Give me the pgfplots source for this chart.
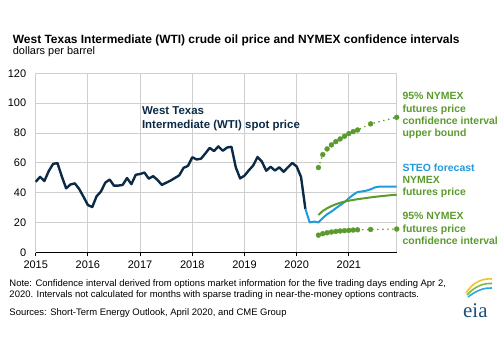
\documentclass[border=0pt]{standalone}
\usepackage{pgfplots}
\pgfplotsset{compat=1.18}
\usepackage{fontspec}
\setmainfont{Liberation Sans}
\newfontfamily\logofont{Liberation Serif}

\definecolor{wtinavy}{HTML}{0C2A46}
\definecolor{steoblue}{HTML}{1F9BDD}
\definecolor{nymexgreen}{HTML}{5B9B2E}
\definecolor{gridgray}{HTML}{CFCFCF}
\definecolor{logoblue}{HTML}{1B4F7A}
\definecolor{logoyellow}{HTML}{F2C230}
\definecolor{logogreen}{HTML}{7DB946}
\definecolor{logocyan}{HTML}{2AA7DF}

% monthly index: 0 = Jan 2015, 83 = Dec 2021
\pgfplotstableread{
m price
0 47.22
1 50.58
2 47.82
3 54.45
4 59.27
5 59.82
6 50.90
7 42.87
8 45.48
9 46.22
10 42.44
11 37.19
12 31.68
13 30.32
14 37.55
15 40.75
16 46.71
17 48.76
18 44.65
19 44.72
20 45.18
21 49.78
22 45.66
23 51.97
24 52.50
25 53.47
26 49.33
27 51.06
28 48.48
29 45.18
30 46.63
31 48.04
32 49.82
33 51.58
34 56.64
35 57.88
36 63.70
37 62.23
38 62.73
39 66.25
40 69.98
41 67.87
42 70.98
43 68.06
44 70.23
45 70.75
46 56.96
47 49.52
48 51.38
49 54.95
50 58.15
51 63.86
52 60.83
53 54.66
54 57.35
55 54.81
56 56.95
57 53.96
58 57.03
59 59.88
60 57.52
61 50.54
62 29.21
}\wtispot

\pgfplotstableread{
m price
62 29.21
63 20.0
64 20.6
65 20.0
66 23.0
67 25.5
68 27.3
69 29.5
70 31.6
71 33.6
72 36.2
73 38.6
74 40.4
75 40.8
76 41.3
77 42.2
78 43.5
79 44.0
80 44.0
81 44.0
82 44.0
83 44.0
}\steo

\pgfplotstableread{
m price
65 25.0
66 27.7
67 29.5
68 31.0
69 32.2
70 33.2
71 34.0
72 34.6
73 35.1
74 35.6
75 36.0
76 36.4
77 36.8
78 37.2
79 37.5
80 37.8
81 38.1
82 38.4
83 38.6
}\futures

\pgfplotstableread{
m price
65 56.8
66 65.5
67 69.3
68 72.0
69 74.2
70 76.0
71 77.8
72 79.6
73 80.9
74 82.0
77 86.1
83 90.5
}\upperci

\pgfplotstableread{
m price
65 11.5
66 12.5
67 13.1
68 13.6
69 14.0
70 14.3
71 14.5
72 14.7
73 14.9
74 15.1
77 15.3
83 15.6
}\lowerci

\begin{document}
\begin{tikzpicture}
\path[use as bounding box] (0bp,0bp) rectangle (500bp,350bp);

% title block
\node[anchor=base west, inner sep=0, font=\fontsize{12}{14}\selectfont\bfseries]
  at (12.7bp,306.5bp) {West Texas Intermediate (WTI) crude oil price and NYMEX confidence intervals};
\node[anchor=base west, inner sep=0, font=\fontsize{11}{13}\selectfont]
  at (12.7bp,295bp) {dollars per barrel};

\begin{axis}[
  at={(35.7bp,97.7bp)}, anchor=south west,
  width=361bp, height=179bp, scale only axis,
  xmin=0, xmax=83, ymin=0, ymax=120,
  xtick={0,12,24,36,48,60,72},
  xticklabels={2015,2016,2017,2018,2019,2020,2021},
  ytick={0,20,...,120},
  grid=major,
  major grid style={gridgray, line width=0.9bp},
  axis line style={gridgray, line width=0.9bp},
  xtick pos=left,
  tick align=outside,
  major tick length=4bp,
  x tick style={black, line width=0.8bp},
  y tick style={draw=none},
  tick label style={font=\fontsize{11}{13}\selectfont},
  /pgf/number format/assume math mode=true,
  yticklabel style={xshift=-2bp},
  xticklabel style={yshift=-1bp},
  clip=false,
]
\draw[black, line width=1bp] (axis cs:0,0) -- (axis cs:83,0);

\addplot[steoblue, line width=2bp, line join=round] table[x=m, y=price] {\steo};
\addplot[nymexgreen, line width=2bp, line join=round] table[x=m, y=price] {\futures};
\addplot[wtinavy, line width=2.4bp, line join=round] table[x=m, y=price] {\wtispot};

\addplot[nymexgreen, line width=1.8bp, line cap=round, dash pattern=on 0pt off 5bp,
  mark=*, mark size=2.5bp, mark options={solid, fill=nymexgreen, draw=nymexgreen, line width=0.3bp}]
  table[x=m, y=price] {\upperci};
\addplot[nymexgreen, line width=1.8bp, line cap=round, dash pattern=on 0pt off 5bp,
  mark=*, mark size=2.5bp, mark options={solid, fill=nymexgreen, draw=nymexgreen, line width=0.3bp}]
  table[x=m, y=price] {\lowerci};

% series labels
\node[anchor=west, align=left, inner sep=0, text=wtinavy, font=\fontsize{11.5}{13.4}\selectfont\bfseries]
  at (axis cs:24.4,89.5) {West Texas\\Intermediate (WTI) spot price};
\node[anchor=west, align=left, inner sep=0, text=nymexgreen, font=\fontsize{10.5}{12.3}\selectfont\bfseries]
  at (axis cs:84.3,91.6) {95\% NYMEX\\futures price\\confidence interval\\upper bound};
\node[anchor=west, align=left, inner sep=0, font=\fontsize{10.5}{12.3}\selectfont\bfseries]
  at (axis cs:84.3,48.0) {\textcolor{steoblue}{STEO forecast}\\\textcolor{nymexgreen}{NYMEX}\\\textcolor{nymexgreen}{futures price}};
\node[anchor=west, align=left, inner sep=0, text=nymexgreen, font=\fontsize{10.5}{12.3}\selectfont\bfseries]
  at (axis cs:84.3,15.9) {95\% NYMEX\\futures price\\confidence interval};
\end{axis}

% notes and sources
\node[anchor=base west, inner sep=0, font=\fontsize{9.5}{11.5}\selectfont]
  at (9.3bp,63.5bp) {Note: Confidence interval derived from options market information for the five trading days ending Apr 2,};
\node[anchor=base west, inner sep=0, font=\fontsize{9.5}{11.5}\selectfont]
  at (9.3bp,52bp) {2020. Intervals not calculated for months with sparse trading in near-the-money options contracts.};
\node[anchor=base west, inner sep=0, font=\fontsize{9.5}{11.5}\selectfont]
  at (9.3bp,35bp) {Sources: Short-Term Energy Outlook, April 2020, and CME Group};

% eia logo
\node[anchor=base west, inner sep=0, text=logoblue, font=\logofont\fontsize{21}{21}\selectfont]
  at (463bp,33bp) {eia};
\draw[logoyellow, line width=1.6bp] (466bp,57bp) .. controls (473bp,68bp) and (483bp,72bp) .. (492bp,71bp);
\draw[logogreen, line width=1.6bp] (467bp,55bp) .. controls (475bp,64bp) and (484bp,67bp) .. (492bp,66.5bp);
\draw[logocyan, line width=1.6bp] (468bp,53bp) .. controls (477bp,60bp) and (485bp,62.5bp) .. (492bp,62bp);
\end{tikzpicture}
\end{document}
